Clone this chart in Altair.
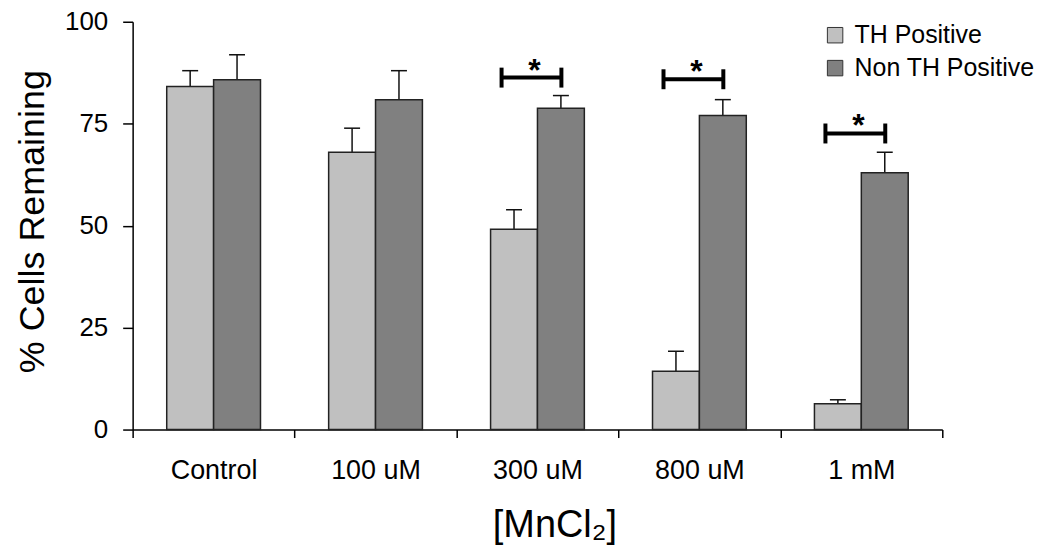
import altair as alt
import pandas as pd

categories = ["Control", "100 uM", "300 uM", "800 uM", "1 mM"]
series = ["TH Positive", "Non TH Positive"]
th_mean = [84.1, 68.0, 49.1, 14.3, 6.3]
th_upper = [88.0, 73.9, 53.9, 19.2, 7.3]
non_mean = [85.8, 80.9, 78.8, 77.0, 63.0]
non_upper = [91.9, 88.0, 81.9, 80.9, 68.0]
sig_categories = ["300 uM", "800 uM", "1 mM"]
sig_level = [86.3, 85.9, 72.6]
sig_text = ["*", "*", "*"]
y_ticks = [0, 25, 50, 75, 100]

rows = []
for i, c in enumerate(categories):
    rows.append({"cat": c, "series": series[0], "mean": th_mean[i], "upper": th_upper[i]})
    rows.append({"cat": c, "series": series[1], "mean": non_mean[i], "upper": non_upper[i]})
df = pd.DataFrame(rows)
sig = pd.DataFrame({"cat": sig_categories, "y": sig_level, "label": sig_text})

FONT = "Liberation Sans"

x_axis = alt.Axis(
    title="[MnCl₂]", tickBand="extent", labelAngle=0, tickSize=8,
    labelFontSize=27, labelBaseline="alphabetic", labelPadding=41,
    titleFontSize=38, titleX=423, titleY=107, titleBaseline="alphabetic",
    titleAnchor="start", titleAlign="center",
)
y_axis = alt.Axis(
    title="% Cells Remaining", values=y_ticks, tickSize=10, labelFontSize=26,
    labelPadding=15, titleFontSize=36, titleX=-89, titleY=200,
    titleAngle=270, titleBaseline="alphabetic", titleAlign="center", grid=False,
)

x_scale = alt.Scale(domain=categories, paddingInner=0, paddingOuter=0)
y_scale = alt.Scale(domain=[0, 100], nice=False)


def X():
    return alt.X("cat:N", sort=categories, scale=x_scale, axis=x_axis)


def XO():
    return alt.XOffset("series:N", sort=series,
                       scale=alt.Scale(domain=series, paddingInner=0, paddingOuter=0.727))


base = alt.Chart(df)

err = base.mark_rule(color="#111111", strokeWidth=1.5).encode(
    x=X(), xOffset=XO(),
    y=alt.Y("mean:Q", scale=y_scale, axis=y_axis), y2="upper:Q",
)
caps = base.mark_tick(color="#111111", thickness=1.5, size=16, orient="horizontal",
                      opacity=1).encode(
    x=X(), xOffset=XO(),
    y=alt.Y("upper:Q", scale=y_scale, axis=y_axis),
)
bars = base.mark_bar(stroke="#222222", strokeWidth=1.5, opacity=1).encode(
    x=X(), xOffset=XO(),
    y=alt.Y("mean:Q", scale=y_scale, axis=y_axis),
    color=alt.Color(
        "series:N", sort=series,
        scale=alt.Scale(domain=series, range=["#c0c0c0", "#808080"]),
        legend=alt.Legend(
            title=None, orient="none", legendX=692, legendY=1, padding=0,
            labelFontSize=25, labelFont=FONT, labelColor="black", labelLimit=0,
            symbolType="square", symbolSize=240, symbolStrokeColor="#333333",
            symbolStrokeWidth=1, labelOffset=7, rowPadding=7, symbolOpacity=1,
        ),
    ),
)

sbase = alt.Chart(sig)
br_h = sbase.mark_tick(color="black", thickness=4, size=61, orient="horizontal",
                       xOffset=-6, opacity=1).encode(
    x=X(), y=alt.Y("y:Q", scale=y_scale, axis=y_axis),
)
br_l = sbase.mark_tick(color="black", thickness=4, size=20, orient="vertical",
                       xOffset=-36, opacity=1).encode(
    x=X(), y=alt.Y("y:Q", scale=y_scale, axis=y_axis),
)
br_r = sbase.mark_tick(color="black", thickness=4, size=20, orient="vertical",
                       xOffset=24, opacity=1).encode(
    x=X(), y=alt.Y("y:Q", scale=y_scale, axis=y_axis),
)
stars = sbase.mark_text(fontSize=32, fontWeight="bold", font=FONT, color="black",
                        baseline="alphabetic", dy=3, xOffset=-3).encode(
    x=X(), y=alt.Y("y:Q", scale=y_scale, axis=y_axis), text="label:N",
)

chart = alt.layer(err, caps, bars, br_h, br_l, br_r, stars).properties(
    width=812, height=409,
    autosize=alt.AutoSizeParams(type="none"),
    padding={"left": 125, "top": 13, "right": 100, "bottom": 117},
).configure_view(stroke=None).configure_axis(
    labelFont=FONT, titleFont=FONT, labelColor="black", titleColor="black",
    domainColor="black", tickColor="black", domainWidth=1.5, tickWidth=1.5,
    titleFontWeight="normal", grid=False,
).configure_legend(labelFont=FONT)

chart.save("out.html", embed_options={"renderer": "svg", "actions": False})
